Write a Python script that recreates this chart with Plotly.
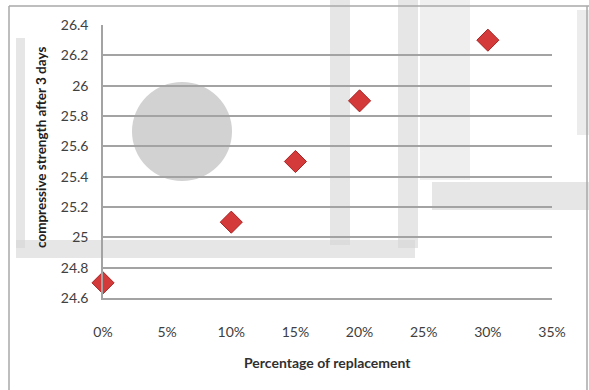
import plotly.graph_objects as go

# Replacement level (fraction) and compressive strength after 3 days
replacement = [0.00, 0.10, 0.15, 0.20, 0.30]
strength = [24.7, 25.1, 25.5, 25.9, 26.3]

x_ticks = [0.00, 0.05, 0.10, 0.15, 0.20, 0.25, 0.30, 0.35]
x_tick_labels = ["0%", "5%", "10%", "15%", "20%", "25%", "30%", "35%"]
y_ticks = [24.6, 24.8, 25.0, 25.2, 25.4, 25.6, 25.8, 26.0, 26.2, 26.4]
y_tick_labels = ["24.6", "24.8", "25", "25.2", "25.4", "25.6", "25.8", "26", "26.2", "26.4"]

W, H = 589, 390
L, R, T, B = 103, 37, 25, 92
PW, PH = W - L - R, H - T - B


def px(x):
    return (x - L) / PW


def py(y):
    return (H - B - y) / PH


FONT = "Lato, 'Open Sans', sans-serif"
GRID = "#a3a3a3"
WM = "#d6d6d6"

fig = go.Figure()
fig.add_trace(go.Scatter(
    x=replacement, y=strength, mode="markers",
    marker=dict(symbol="diamond", size=17, color="#d53a3a",
                line=dict(color="#a82424", width=1)),
    cliponaxis=False, showlegend=False,
))

shapes = []


def rect(x0, y0, x1, y1, color=WM, opacity=0.6):
    shapes.append(dict(type="rect", xref="paper", yref="paper",
                       x0=px(x0), x1=px(x1), y0=py(y1), y1=py(y0),
                       fillcolor=color, line=dict(width=0), opacity=opacity,
                       layer="below"))


def line(x0, y0, x1, y1):
    shapes.append(dict(type="line", xref="paper", yref="paper",
                       x0=px(x0), x1=px(x1), y0=py(y0), y1=py(y1),
                       line=dict(color="#a8a8a8", width=1.5), layer="above"))


# faint background emblem
shapes.append(dict(type="circle", xref="paper", yref="paper",
                   x0=px(132), x1=px(232), y0=py(181), y1=py(82),
                   fillcolor="#d2d2d2", line=dict(width=0), layer="below"))
rect(16, 38, 25, 248)
rect(16, 240, 415, 258)
rect(330, 0, 350, 245)
rect(398, 0, 418, 248)
rect(420, 0, 470, 180, color="#e4e4e4")
rect(432, 182, 589, 210)
rect(577, 10, 589, 135, color="#e0e0e0")

# outer chart frame
line(9, 6, 589, 6)
line(9, 6, 9, 390)
line(587, 6, 587, 390)

fig.update_layout(
    width=W, height=H,
    margin=dict(l=L, r=R, t=T, b=B),
    paper_bgcolor="white", plot_bgcolor="white",
    font=dict(family=FONT, color="#404040", size=14),
    shapes=shapes,
    xaxis=dict(
        range=[0, 0.35], tickvals=x_ticks, ticktext=x_tick_labels,
        showgrid=False, zeroline=False, showline=True,
        linecolor=GRID, linewidth=1.5, ticks="",
        ticklabelstandoff=20, tickfont=dict(size=14, color="#404040"),
    ),
    yaxis=dict(
        range=[24.6, 26.4], tickvals=y_ticks, ticktext=y_tick_labels,
        showgrid=True, gridcolor=GRID, gridwidth=1.5, zeroline=False,
        showline=True, linecolor=GRID, linewidth=1.5, ticks="",
        ticklabelstandoff=10, tickfont=dict(size=14, color="#404040"),
    ),
    annotations=[
        dict(text="<b>compressive strength after 3 days</b>", textangle=-90,
             xref="paper", yref="paper", x=px(41), y=py(148),
             xanchor="center", yanchor="middle",
             showarrow=False, font=dict(size=13.5, color="#202020", family=FONT)),
        dict(text="<b>Percentage of replacement</b>",
             xref="paper", yref="paper", x=px(327), y=py(362),
             xanchor="center", yanchor="middle",
             showarrow=False, font=dict(size=14, color="#303030", family=FONT)),
    ],
)

fig.write_html("out.html")
